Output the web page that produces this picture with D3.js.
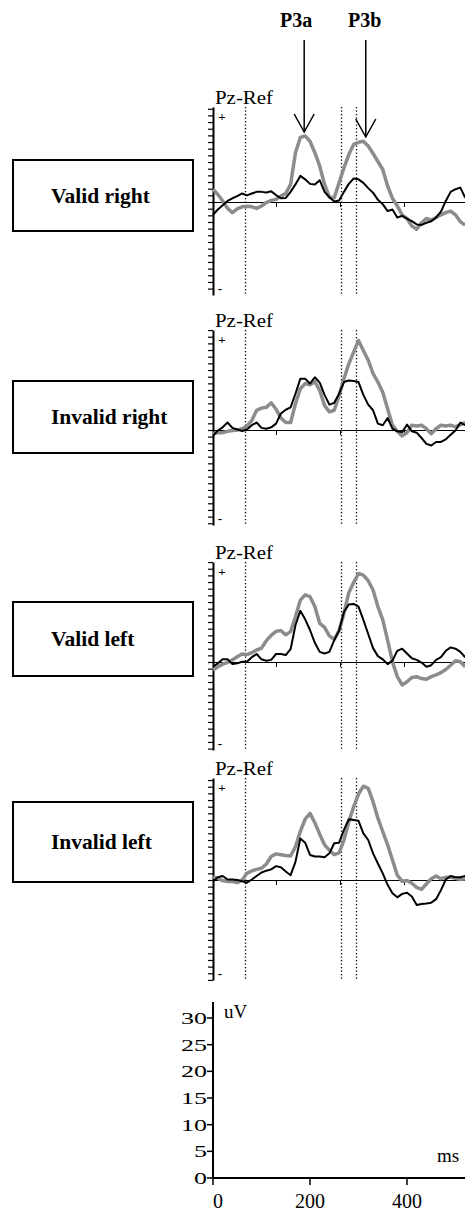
<!DOCTYPE html>
<html>
<head>
<meta charset="utf-8">
<script src="https://cdn.jsdelivr.net/npm/d3@7"></script>
<style>
  body { margin: 0; background: #fff; }
  svg { display: block; }
</style>
</head>
<body>
<div id="chart"></div>
<script>
// sample times (ms)
var times = [0, 10, 20, 30, 40, 50, 60, 70, 80, 90, 100, 110, 120, 130, 140, 150, 160, 170, 180, 190,
  200, 210, 220, 230, 240, 250, 260, 270, 280, 290, 300, 310, 320, 330, 340, 350, 360, 370, 380, 390,
  400, 410, 420, 430, 440, 450, 460, 470, 480, 490, 500, 510, 520];

var conditions = ["Valid right", "Invalid right", "Valid left", "Invalid left"];

// uV, gray (thick) and black (thin) traces for each condition
var grayValidRight = [2.4, 1.4, 0.2, -1.2, -2.0, -1.3, -0.9, -0.8, -0.9, -1.2, -0.75, -0.1, 0.3, 0.5, 1.1, 1.6, 3.3, 9.25, 12.1, 12.4,
  11.4, 9.25, 6.75, 3.3, 0.9, 0.8, 3.6, 6.4, 8.9, 10.8, 11.2, 11.4, 10.5, 9.1, 7.6, 6.1, 3.0, 0.7, -0.75, -2.4,
  -3.1, -4.5, -5.1, -3.9, -3.1, -3.4, -2.9, -2.4, -2.0, -1.7, -2.4, -3.7, -4.3];
var blackValidRight = [-2.4, -1.4, -0.6, 0.2, 0.7, 1.1, 1.6, 1.25, 1.6, 1.9, 1.9, 1.8, 2.0, 1.3, 0.7, 0.75, 1.9, 3.3, 4.9, 4.25,
  3.4, 3.3, 4.1, 1.9, 0.9, 0.1, 0.3, 1.9, 3.4, 4.4, 4.25, 3.6, 2.6, 1.75, 0.4, -0.4, -1.7, -1.4, -2.9, -2.6,
  -3.1, -3.6, -4.2, -4.3, -3.9, -3.6, -2.9, -1.8, 0.2, 1.9, 2.4, 2.7, 0.8];
var grayInvalidRight = [-0.7, -0.5, -0.5, -0.25, -0.1, 0, 0.25, 0.75, 1.8, 3.7, 4.1, 4.25, 5.1, 3.9, 2.25, 1.4, 1.4, 4.9, 7.75, 8.7,
  8.5, 9.1, 7.4, 4.6, 3.4, 3.7, 6.5, 9.6, 12.4, 14.6, 16.8, 14.9, 13.1, 10.6, 9.0, 7.1, 4.0, 0.9, -0.25, -1.1,
  -0.5, 0.9, 0.75, 0.9, 0.25, -0.7, 0.25, 0.9, 0.75, 0.9, 0.6, 1.0, 1.4];
var blackInvalidRight = [-1.1, -0.1, 0.5, 1.4, 0.4, 0.1, -0.2, 0.1, 0.9, 1.4, 0.4, 0.25, 0.5, 1.2, 3.1, 3.8, 4.25, 6.8, 9.6, 9.6,
  8.7, 9.9, 8.9, 6.6, 4.75, 5.1, 6.8, 9.0, 9.3, 9.2, 9.0, 6.6, 4.75, 3.7, 1.2, 0.9, 2.25, 0.25, -0.25, -0.4,
  1.0, -0.25, -0.5, -1.5, -2.6, -2.9, -2.25, -2.25, -1.75, -0.9, -0.1, 1.4, 0.9];
var grayValidLeft = [-1.5, -0.9, -0.4, -0.1, 0.4, 1.0, 1.5, 1.4, 1.75, 2.25, 2.6, 4.0, 5.0, 5.75, 5.9, 5.1, 5.7, 8.5, 11.6, 12.6,
  12.25, 10.4, 7.25, 6.5, 4.9, 4.25, 5.9, 9.1, 13.0, 14.9, 16.6, 16.3, 15.25, 13.5, 10.4, 7.9, 4.1, 0.06, -2.75, -4.3,
  -3.7, -2.9, -2.75, -3.1, -3.25, -2.75, -2.4, -2.0, -1.4, -0.6, 0.25, 0.06, -0.9];
var blackValidLeft = [-0.9, -0.25, 0.5, 0.5, -0.4, -0.25, 0.06, 0.06, 0.9, 1.5, 0.5, 0.25, 0.4, 1.5, 1.5, 1.3, 2.4, 6.9, 9.6, 8.0,
  6.0, 3.6, 1.9, 1.6, 1.9, 4.1, 5.9, 9.4, 10.8, 10.9, 10.4, 7.9, 5.25, 2.6, 1.1, 0.5, -0.4, 0.25, 2.1, 2.5,
  1.6, 0.7, 0.4, -0.1, -0.9, -0.6, 0.4, 0.9, 2.1, 2.75, 2.5, 1.9, 0.9];
var grayInvalidLeft = [0.6, 0.3, -0.1, -0.3, -0.3, -0.5, 0, 1.25, 1.7, 2.0, 2.2, 3.0, 4.4, 4.9, 4.75, 4.6, 4.5, 6.25, 9.1, 11.4,
  12.5, 10.75, 8.6, 6.6, 5.6, 4.75, 5.1, 7.5, 10.9, 13.75, 16.1, 17.6, 17.2, 14.7, 11.6, 9.1, 6.6, 3.75, 0.9, -0.25,
  -0.1, -0.6, -1.4, -1.75, -0.75, 0.25, 0.75, 0.25, 0.5, 0.5, 0.3, 0.1, 0.25];
var blackInvalidLeft = [-0.3, 0.5, 0.75, 0.1, 0.1, 0, -0.25, -0.5, 0.1, 0.75, 1.4, 1.75, 2.0, 2.6, 2.4, 1.6, 0.9, 3.4, 7.8, 7.0,
  4.7, 4.4, 4.4, 4.25, 5.0, 6.9, 7.0, 9.4, 11.4, 11.25, 11.1, 8.75, 7.5, 5.0, 3.1, 1.25, -0.9, -2.5, -3.25, -2.6,
  -2.4, -3.1, -4.7, -4.5, -4.4, -4.25, -3.6, -1.9, 0.1, 0.75, 0.5, 0.5, 0.75];

var grayTraces = [grayValidRight, grayInvalidRight, grayValidLeft, grayInvalidLeft];
var blackTraces = [blackValidRight, blackInvalidRight, blackValidLeft, blackInvalidLeft];

var markerTimes = [67, 264, 295];      // dotted vertical lines (ms)
var zeroLineTicks = [130, 262, 394];   // small ticks on baseline (ms)
var peakLabels = ["P3a", "P3b"];
var peakTimes = [188, 315];
var scaleTicksUv = [0, 5, 10, 15, 20, 25, 30];
var scaleTicksMs = [0, 200, 400];

function init() {
  var w = 465;
  var h = 1212;
  var pxPerUv = 5.33;
  var serif = "'Liberation Serif', 'Times New Roman', serif";

  // panel layout: baseline, axis top, axis bottom (px)
  var panels = [
    { zero: 202, top: 107, bottom: 295, box: [160, 231] },
    { zero: 430, top: 330, bottom: 525, box: [381, 453] },
    { zero: 662, top: 562, bottom: 750, box: [602, 676] },
    { zero: 880, top: 778, bottom: 980, box: [802, 882] }
  ];

  var svg = d3.select("#chart")
    .append("svg")
    .attr("width", w)
    .attr("height", h)
    .style("font-family", serif);

  var xScale = d3.scaleLinear()
    .domain([0, 400])
    .range([213, 407]);

  svg.append("defs").append("clipPath")
    .attr("id", "plotClip")
    .append("rect")
    .attr("x", 212).attr("y", 0)
    .attr("width", w - 212).attr("height", h);

  panels.forEach(function (p, i) {
    var yScale = d3.scaleLinear()
      .domain([0, 10])
      .range([p.zero, p.zero - 10 * pxPerUv]);
    var topUv = yScale.invert(p.top);
    var bottomUv = yScale.invert(p.bottom);

    // condition box
    svg.append("rect")
      .attr("x", 13)
      .attr("y", p.box[0])
      .attr("width", 180)
      .attr("height", p.box[1] - p.box[0])
      .attr("fill", "none")
      .attr("stroke", "#000")
      .attr("stroke-width", 2)
      .attr("shape-rendering", "crispEdges");
    svg.append("text")
      .attr("x", 51)
      .attr("y", (p.box[0] + p.box[1]) / 2 + 7)
      .style("font-size", "21.5px")
      .style("font-weight", "bold")
      .text(conditions[i]);

    // dotted markers
    svg.selectAll(".marker" + i)
      .data(markerTimes)
      .enter()
      .append("line")
      .attr("x1", function (d) { return Math.round(xScale(d)) + 0.5; })
      .attr("x2", function (d) { return Math.round(xScale(d)) + 0.5; })
      .attr("y1", p.top)
      .attr("y2", p.bottom)
      .attr("stroke", "#000")
      .attr("stroke-width", 1.3)
      .attr("stroke-dasharray", "1.3,2.2");

    // baseline with ticks
    svg.append("line")
      .attr("x1", 213).attr("x2", w)
      .attr("y1", yScale(0) + 0.5).attr("y2", yScale(0) + 0.5)
      .attr("stroke", "#000")
      .attr("stroke-width", 1)
      .attr("shape-rendering", "crispEdges");
    svg.selectAll(".zt" + i)
      .data(zeroLineTicks)
      .enter()
      .append("line")
      .attr("x1", function (d) { return Math.round(xScale(d)) + 0.5; })
      .attr("x2", function (d) { return Math.round(xScale(d)) + 0.5; })
      .attr("y1", yScale(0))
      .attr("y2", yScale(0) + 5)
      .attr("stroke", "#000")
      .attr("stroke-width", 1)
      .attr("shape-rendering", "crispEdges");

    // vertical axis with minor ticks
    var tickVals = d3.range(Math.ceil(bottomUv / 1.25) * 1.25, topUv + 0.01, 1.25);
    var yAxis = d3.axisLeft(d3.scaleLinear().domain([bottomUv, topUv]).range([p.bottom, p.top]))
      .tickValues(tickVals)
      .tickSize(5)
      .tickSizeOuter(0)
      .tickFormat("");
    var ax = svg.append("g")
      .attr("transform", "translate(213,0)")
      .call(yAxis);
    ax.select(".domain").attr("stroke-width", 2);
    ax.selectAll(".tick line").attr("stroke-width", 1.2);

    svg.append("text")
      .attr("x", 215)
      .attr("y", p.top - 3)
      .attr("textLength", 58)
      .attr("lengthAdjust", "spacingAndGlyphs")
      .style("font-size", "19px")
      .text("Pz-Ref");
    svg.append("text")
      .attr("x", 222)
      .attr("y", p.top + 14)
      .attr("text-anchor", "middle")
      .style("font-size", "13px")
      .style("font-weight", "bold")
      .text("+");
    svg.append("text")
      .attr("x", 220)
      .attr("y", p.bottom - 2)
      .attr("text-anchor", "middle")
      .style("font-size", "13px")
      .style("font-weight", "bold")
      .text("-");

    // traces
    var line = d3.line()
      .x(function (d, j) { return xScale(times[j]); })
      .y(function (d) { return yScale(d); });
    var g = svg.append("g").attr("clip-path", "url(#plotClip)");
    g.append("path")
      .datum(grayTraces[i])
      .attr("fill", "none")
      .attr("stroke", "#8c8c8c")
      .attr("stroke-width", 3.5)
      .attr("stroke-linejoin", "round")
      .attr("d", line);
    g.append("path")
      .datum(blackTraces[i])
      .attr("fill", "none")
      .attr("stroke", "#000")
      .attr("stroke-width", 2)
      .attr("stroke-linejoin", "round")
      .attr("d", line);
  });

  // peak arrows on first panel
  var arrowTips = [132, 137];
  peakLabels.forEach(function (lab, k) {
    var x = xScale(peakTimes[k]);
    var tip = arrowTips[k];
    svg.append("text")
      .attr("x", x - (k === 0 ? 8 : 1))
      .attr("y", 27)
      .attr("text-anchor", "middle")
      .style("font-size", "20px")
      .style("font-weight", "bold")
      .text(lab);
    svg.append("line")
      .attr("x1", x).attr("x2", x)
      .attr("y1", 40).attr("y2", tip)
      .attr("stroke", "#000")
      .attr("stroke-width", 1.5);
    svg.append("path")
      .attr("d", "M" + (x - 10) + "," + (tip - 18) + "L" + x + "," + tip + "L" + (x + 10) + "," + (tip - 18))
      .attr("fill", "none")
      .attr("stroke", "#000")
      .attr("stroke-width", 1.5);
  });

  // calibration scale
  var scaleY = d3.scaleLinear().domain([0, 30]).range([1178, 1018]);
  var scaleX = d3.scaleLinear().domain([0, 400]).range([213, 407]);

  svg.append("line")
    .attr("x1", 213).attr("x2", 213)
    .attr("y1", 1002).attr("y2", 1179)
    .attr("stroke", "#000").attr("stroke-width", 2);
  svg.append("line")
    .attr("x1", 212).attr("x2", w)
    .attr("y1", 1178).attr("y2", 1178)
    .attr("stroke", "#000").attr("stroke-width", 2);

  svg.selectAll(".ytk")
    .data(scaleTicksUv)
    .enter()
    .append("line")
    .attr("x1", 207).attr("x2", 213)
    .attr("y1", function (d) { return scaleY(d); })
    .attr("y2", function (d) { return scaleY(d); })
    .attr("stroke", "#000").attr("stroke-width", 1.5);
  svg.selectAll(".ylab")
    .data(scaleTicksUv)
    .enter()
    .append("text")
    .attr("x", 207)
    .attr("y", function (d) { return scaleY(d) + 6; })
    .attr("text-anchor", "end")
    .attr("textLength", function (d) { return String(d).length * 13; })
    .attr("lengthAdjust", "spacingAndGlyphs")
    .style("font-size", "17px")
    .text(function (d) { return d; });

  svg.selectAll(".xtk")
    .data(scaleTicksMs)
    .enter()
    .append("line")
    .attr("x1", function (d) { return scaleX(d); })
    .attr("x2", function (d) { return scaleX(d); })
    .attr("y1", 1178).attr("y2", 1185)
    .attr("stroke", "#000").attr("stroke-width", 1.5);
  svg.selectAll(".xlab")
    .data(scaleTicksMs)
    .enter()
    .append("text")
    .attr("x", function (d) { return scaleX(d) + (d === 0 ? 5 : 0); })
    .attr("y", 1208)
    .attr("text-anchor", "middle")
    .style("font-size", "20px")
    .text(function (d) { return d; });

  svg.append("text")
    .attr("x", 224).attr("y", 1018)
    .style("font-size", "19px")
    .text("uV");
  svg.append("text")
    .attr("x", 437).attr("y", 1162)
    .style("font-size", "19px")
    .text("ms");
}

window.onload = init;
</script>
</body>
</html>
